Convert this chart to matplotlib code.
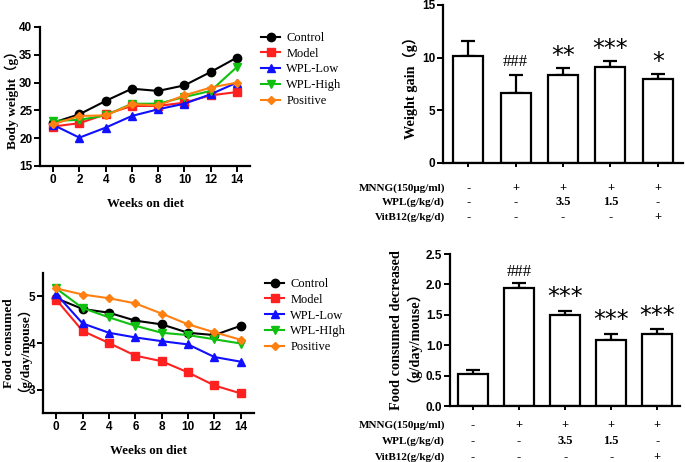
import numpy as np
import matplotlib
matplotlib.use('Agg')
import matplotlib.pyplot as plt
import matplotlib.transforms as mtransforms
from matplotlib.ticker import FormatStrFormatter

weeks = [0, 2, 4, 6, 8, 10, 12, 14]
groups = ['Control', 'Model', 'WPL-Low', 'WPL-High', 'Positive']
groups_food = ['Control', 'Model', 'WPL-Low', 'WPL-HIgh', 'Positive']

# body weight (g)
bw_control = [22.8, 24.3, 26.7, 28.9, 28.5, 29.5, 31.9, 34.5]
bw_model = [22.1, 22.7, 24.3, 25.8, 25.8, 26.4, 27.7, 28.3]
bw_low = [22.4, 20.1, 21.9, 24.0, 25.2, 26.2, 27.9, 30.0]
bw_high = [23.1, 23.3, 24.1, 26.2, 26.2, 27.4, 28.5, 32.8]
bw_pos = [22.5, 24.0, 24.1, 26.1, 25.9, 27.7, 29.1, 30.0]

# food consumed (g/day/mouse)
fc_control = [4.96, 4.73, 4.65, 4.48, 4.40, 4.22, 4.17, 4.37]
fc_model = [4.93, 4.26, 4.00, 3.73, 3.61, 3.37, 3.09, 2.92]
fc_low = [5.05, 4.42, 4.22, 4.12, 4.04, 3.97, 3.70, 3.60]
fc_high = [5.17, 4.75, 4.55, 4.37, 4.22, 4.17, 4.08, 3.99]
fc_pos = [5.17, 5.04, 4.96, 4.85, 4.63, 4.40, 4.23, 4.07]

# weight gain bars
wg_mean = [10.17, 6.63, 8.40, 9.09, 7.99]
wg_err = [1.45, 1.74, 0.66, 0.64, 0.47]
wg_sig = ['', '###', '**', '***', '*']

# food consumed decreased bars
fd_mean = [0.53, 1.945, 1.49, 1.09, 1.18]
fd_err = [0.06, 0.075, 0.08, 0.10, 0.08]
fd_sig = ['', '###', '***', '***', '***']

row_labels = ['MNNG(150μg/ml)', 'WPL(g/kg/d)', 'VitB12(g/kg/d)']
row_mnng = ['-', '+', '+', '+', '+']
row_wpl = ['-', '-', '3.5', '1.5', '-']
row_vit = ['-', '-', '-', '-', '+']

colors = ['black', '#ff2020', '#1010ff', '#10c010', '#ff7f10']
markers = ['o', 's', '^', 'v', 'D']
msizes = [6, 6, 6, 6, 4.5]

SERIF = ['Liberation Serif', 'Noto Sans CJK SC']
SANS = 'Liberation Sans'

fig = plt.figure(figsize=(6.85, 4.62), dpi=100)


def style_axes(ax):
    for s in ['top', 'right']:
        ax.spines[s].set_visible(False)
    for s in ['left', 'bottom']:
        ax.spines[s].set_linewidth(1.6)
    ax.tick_params(width=1.4, length=4, labelsize=8.5, pad=1.5)
    for lab in ax.get_xticklabels() + ax.get_yticklabels():
        lab.set_fontfamily(SANS)
        lab.set_fontweight('bold')


def ylabel_text(ax, label, xp, size):
    # rotated y label placed in axes coords (two-line labels kept tight)
    ax.text(xp, 0.5, label, transform=ax.transAxes, rotation=90,
            ha='center', va='center', multialignment='center', family=SERIF,
            fontweight='bold', fontsize=size, linespacing=0.56)


def line_panel(rect, series, names, ylim, yticks, ylabel, label_x):
    ax = fig.add_axes(rect)
    for i, ys in enumerate(series):
        ax.plot(weeks, ys, color=colors[i], marker=markers[i], ms=msizes[i],
                lw=1.5, label=names[i])
    ax.set_xlim(-1, 15)
    ax.set_ylim(*ylim)
    ax.set_xticks(weeks)
    ax.set_yticks(yticks)
    style_axes(ax)
    ax.set_xlabel('Weeks on diet', family=SERIF, fontweight='bold',
                  fontsize=9.3, labelpad=9)
    ylabel_text(ax, ylabel, label_x, 9.6)
    ax.legend(loc='upper left', bbox_to_anchor=(1.03, 1.0), frameon=False,
              prop={'family': SERIF, 'size': 9}, handlelength=1.5,
              handletextpad=0.5, labelspacing=0.3, borderaxespad=0)
    return ax


def bar_panel(rect, means, errs, sigs, ylim, yticks, ylabel, label_xp, xlim,
              width, row_y, label_x, sig_off):
    ax = fig.add_axes(rect)
    x = np.arange(len(means))
    ax.bar(x, means, width=width, color='white', edgecolor='black', lw=1.6,
           zorder=2)
    ax.errorbar(x, means, yerr=[np.zeros(len(errs)), errs], fmt='none',
                ecolor='black', elinewidth=1.6, capsize=5, capthick=1.6,
                zorder=1)
    for xi, m, e, s in zip(x, means, errs, sigs):
        if not s:
            continue
        if s.startswith('#'):
            ax.text(xi, m + e + sig_off[0], s, ha='center', va='center',
                    family=SERIF, fontsize=12)
        else:
            ax.text(xi, m + e + sig_off[1], s, ha='center', va='center',
                    family='DejaVu Sans', fontsize=17)
    ax.set_xlim(*xlim)
    ax.set_ylim(*ylim)
    ax.set_yticks(yticks)
    ax.set_xticks(x)
    ax.set_xticklabels([])
    style_axes(ax)
    ax.tick_params(axis='x', length=3)
    ylabel_text(ax, ylabel, label_xp, 10.3)
    trans = mtransforms.blended_transform_factory(ax.transData, ax.transAxes)
    for r, (lab, vals) in enumerate(zip(row_labels, [row_mnng, row_wpl, row_vit])):
        ax.text(label_x, row_y[r], lab, transform=ax.transAxes, ha='right',
                va='center', family=SERIF, fontweight='bold', fontsize=8)
        for xi, v in zip(x, vals):
            ax.text(xi, row_y[r], v, transform=trans, ha='center', va='center',
                    family=SERIF, fontweight='bold', fontsize=9)
    return ax


line_panel([0.0584, 0.6407, 0.3066, 0.3009],
           [bw_control, bw_model, bw_low, bw_high, bw_pos], groups,
           (15, 40), [15, 20, 25, 30, 35, 40], 'Body weight（g）', -0.136)

line_panel([0.0628, 0.106, 0.308, 0.303],
           [fc_control, fc_model, fc_low, fc_high, fc_pos], groups_food,
           (2.5, 5.5), [3, 4, 5], 'Food consumed\n（g/day/mouse）', -0.140)

bar_panel([0.6467, 0.6472, 0.3504, 0.342], wg_mean, wg_err, wg_sig,
          (0, 15), [0, 5, 10, 15], 'Weight gain（g）', -0.1375,
          (-0.53, 4.53), 0.63, [-0.158, -0.247, -0.342], 0.008, (1.2, 1.1))

ax_d = bar_panel([0.657, 0.1212, 0.336, 0.329], fd_mean, fd_err, fd_sig,
                 (0, 2.5), [0.0, 0.5, 1.0, 1.5, 2.0, 2.5],
                 'Food consumed decreased\n（g/day/mouse）', -0.210,
                 (-0.5, 4.5), 0.64, [-0.125, -0.230, -0.336], -0.022,
                 (0.18, 0.22))
ax_d.yaxis.set_major_formatter(FormatStrFormatter('%.1f'))

fig.savefig('out.png', dpi=100)
